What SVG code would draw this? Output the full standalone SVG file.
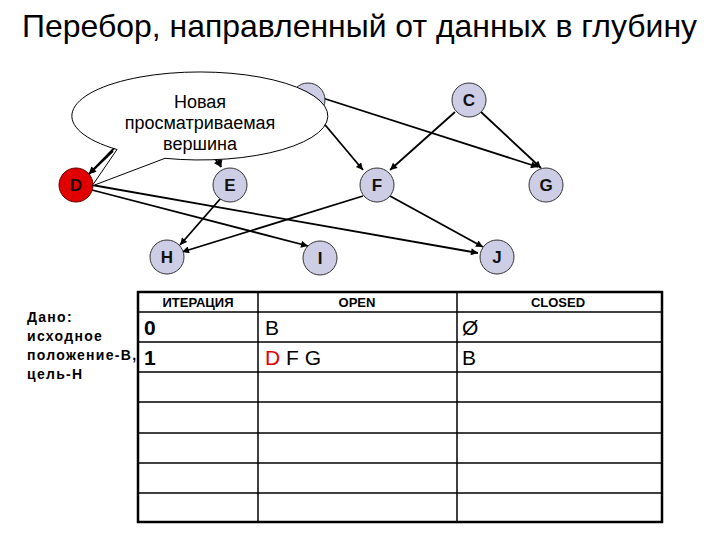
<svg xmlns="http://www.w3.org/2000/svg" width="720" height="540" viewBox="0 0 720 540">
<defs>
<marker id="ah" viewBox="0 0 10 10" refX="10" refY="5" markerWidth="9" markerHeight="7" markerUnits="userSpaceOnUse" orient="auto">
<path d="M0,0 L10,5 L0,10 Z" fill="#000"/>
</marker>
<style>
.edge{stroke:#000;stroke-width:1.8;fill:none;marker-end:url(#ah)}
.node circle{fill:#CDCDE6;stroke:#333;stroke-width:1}
.node text{font-family:"Liberation Sans",Arial,sans-serif;font-weight:bold;font-size:17px;fill:#111;text-anchor:middle}
.hdr{font-family:"Liberation Sans",Arial,sans-serif;font-weight:bold;font-size:13px;text-anchor:middle}
.cell{font-family:"Liberation Sans",Arial,sans-serif;font-size:21px}
.left{font-family:"Liberation Sans",Arial,sans-serif;font-weight:bold;font-size:14px;letter-spacing:1.3px}
.grid{stroke:#000;stroke-width:1.5}
</style>
</defs>
<rect width="720" height="540" fill="#fff"/>
<text x="22" y="37" font-family="'Liberation Sans',Arial,sans-serif" font-size="32" textLength="675" lengthAdjust="spacingAndGlyphs">Перебор, направленный от данных в глубину</text>

<g id="connectors">
<line class="edge" x1="161" y1="100" x2="89" y2="174"/>
<line class="edge" x1="180" y1="110" x2="221" y2="167"/>
<line class="edge" x1="300" y1="95" x2="363" y2="170"/>
<line class="edge" x1="310" y1="94" x2="538" y2="167"/>
<line class="edge" x1="455" y1="112" x2="390" y2="170"/>
<line class="edge" x1="481" y1="112" x2="541" y2="168"/>
<line class="edge" x1="92" y1="190" x2="308" y2="246"/>
<line class="edge" x1="92" y1="185" x2="478" y2="253"/>
<line class="edge" x1="221" y1="198" x2="180" y2="245"/>
<line class="edge" x1="363" y1="196" x2="182" y2="252"/>
<line class="edge" x1="390" y1="196" x2="483" y2="247"/>
</g>

<g id="node-B" class="node"><circle cx="308" cy="100" r="17"/><text x="308" y="106">B</text></g>
<g id="node-C" class="node"><circle cx="469" cy="100" r="17"/><text x="469" y="106">C</text></g>
<g id="node-D" class="node"><circle cx="76" cy="185" r="17" style="fill:#E00000;stroke:#600"/><text x="76" y="191">D</text></g>
<g id="node-E" class="node"><circle cx="230" cy="185" r="17"/><text x="230" y="191">E</text></g>
<g id="node-F" class="node"><circle cx="377" cy="185" r="17"/><text x="377" y="191">F</text></g>
<g id="node-G" class="node"><circle cx="546" cy="185" r="17"/><text x="546" y="191">G</text></g>
<g id="node-H" class="node"><circle cx="167" cy="257" r="17"/><text x="167" y="263">H</text></g>
<g id="node-I" class="node"><circle cx="320" cy="258" r="17"/><text x="320" y="264">I</text></g>
<g id="node-J" class="node"><circle cx="497" cy="257" r="17"/><text x="497" y="263">J</text></g>

<g id="callout">
<path d="M117,149.5 A128,44 0 1 1 165,158.3 L92,186 Z" fill="#fff" stroke="#000" stroke-width="1"/>
<g font-family="'Liberation Sans',Arial,sans-serif" font-size="18" text-anchor="middle">
<text x="200" y="108">Новая</text>
<text x="200" y="129">просматриваемая</text>
<text x="200" y="150">вершина</text>
</g>
</g>
<line class="edge" x1="113" y1="151" x2="89" y2="174"/>
<line class="edge" x1="219" y1="160" x2="221" y2="167"/>

<g id="given">
<text class="left" x="27" y="322">Дано:</text>
<text class="left" x="27" y="341">исходное</text>
<text class="left" x="27" y="360">положение-B,</text>
<text class="left" x="27" y="379">цель-H</text>
</g>

<g id="table">
<rect x="138" y="292" width="524" height="230" fill="none" stroke="#000" stroke-width="2.5"/>
<line class="grid" x1="138" y1="312" x2="662" y2="312"/>
<line class="grid" x1="138" y1="342" x2="662" y2="342"/>
<line class="grid" x1="138" y1="372" x2="662" y2="372"/>
<line class="grid" x1="138" y1="402" x2="662" y2="402"/>
<line class="grid" x1="138" y1="433" x2="662" y2="433"/>
<line class="grid" x1="138" y1="463" x2="662" y2="463"/>
<line class="grid" x1="138" y1="493" x2="662" y2="493"/>
<line class="grid" x1="258" y1="292" x2="258" y2="522"/>
<line class="grid" x1="457" y1="292" x2="457" y2="522"/>
<text class="hdr" x="198" y="307">ИТЕРАЦИЯ</text>
<text class="hdr" x="357" y="307">OPEN</text>
<text class="hdr" x="558" y="307">CLOSED</text>
<text class="cell" x="144" y="335" font-weight="bold">0</text>
<text class="cell" x="265" y="335">B</text>
<text class="cell" x="462" y="335">Ø</text>
<text class="cell" x="144" y="365" font-weight="bold">1</text>
<text class="cell" x="265" y="365" xml:space="preserve"><tspan fill="#E00000">D</tspan> F G</text>
<text class="cell" x="462" y="365">B</text>
</g>
</svg>
